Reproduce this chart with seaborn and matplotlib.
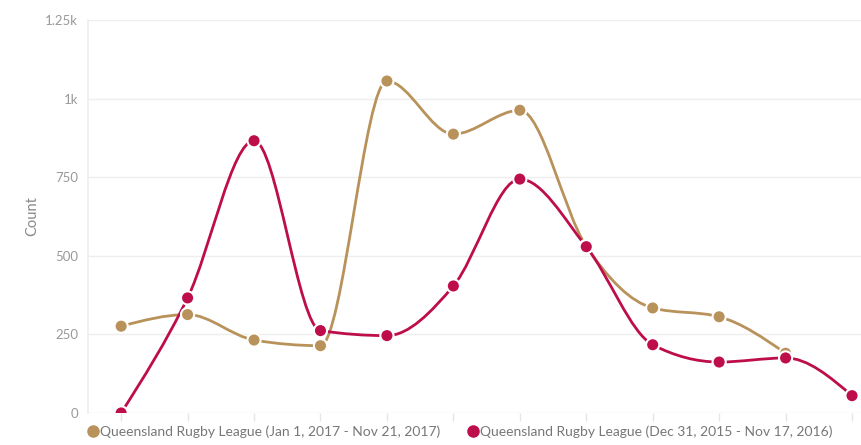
import numpy as np
import pandas as pd
import seaborn as sns
import matplotlib
matplotlib.use("Agg")
import matplotlib.pyplot as plt
from matplotlib.path import Path
from matplotlib.patches import PathPatch
from matplotlib.lines import Line2D

# ---- data ----
periods = list(range(12))
series_2017_name = "Queensland Rugby League (Jan 1, 2017 - Nov 21, 2017)"
series_2016_name = "Queensland Rugby League (Dec 31, 2015 - Nov 17, 2016)"
counts_2017 = [276, 313, 232, 214, 1056, 887, 963, 530, 334, 306, 190]
counts_2016 = [0, 366, 866, 262, 246, 404, 744, 529, 217, 162, 175, 55]
y_ticks = [0, 250, 500, 750, 1000, 1250]
y_tick_labels = ["0", "250", "500", "750", "1k", "1.25k"]

col_2017 = "#B8925A"
col_2016 = "#BE0D4B"

sns.set_theme(style="white")
plt.rcParams["font.family"] = ["Lato", "DejaVu Sans"]

fig = plt.figure(figsize=(8.62, 4.45), dpi=100)
ax = fig.add_axes([0.102, 0.072, 0.898, 0.883])

df = pd.concat([
    pd.DataFrame({"period": periods[:len(counts_2017)], "count": counts_2017, "series": series_2017_name}),
    pd.DataFrame({"period": periods[:len(counts_2016)], "count": counts_2016, "series": series_2016_name}),
])
palette = {series_2017_name: col_2017, series_2016_name: col_2016}


def monotone_path(xs, ys):
    x = np.asarray(xs, float)
    y = np.asarray(ys, float)
    n = len(x)
    h = np.diff(x)
    s = np.diff(y) / h
    t = np.zeros(n)
    for i in range(1, n - 1):
        s0, s1 = s[i - 1], s[i]
        p = (s0 * h[i] + s1 * h[i - 1]) / (h[i - 1] + h[i])
        t[i] = (np.sign(s0) + np.sign(s1)) * min(abs(s0), abs(s1), 0.5 * abs(p))
    t[0] = (3 * s[0] - t[1]) / 2 if n > 2 else s[0]
    t[-1] = (3 * s[-1] - t[-2]) / 2 if n > 2 else s[-1]
    verts = [(x[0], y[0])]
    codes = [Path.MOVETO]
    for i in range(n - 1):
        dx = (x[i + 1] - x[i]) / 3.0
        verts += [(x[i] + dx, y[i] + dx * t[i]),
                  (x[i + 1] - dx, y[i + 1] - dx * t[i + 1]),
                  (x[i + 1], y[i + 1])]
        codes += [Path.CURVE4] * 3
    return Path(verts, codes)


for name, vals, col in [(series_2017_name, counts_2017, col_2017),
                        (series_2016_name, counts_2016, col_2016)]:
    xs = periods[:len(vals)]
    ax.add_patch(PathPatch(monotone_path(xs, vals), facecolor="none",
                           edgecolor=col, lw=2, zorder=3))

sns.scatterplot(data=df, x="period", y="count", hue="series", palette=palette,
                s=90, edgecolor="white", linewidth=1.5, zorder=4, ax=ax, legend=False)

ax.set_xlim(-0.5, 11.15)
ax.set_ylim(0, 1250)
ax.set_yticks(y_ticks)
ax.set_yticklabels(y_tick_labels)
ax.set_xticks(periods)
ax.set_xticklabels([])
ax.grid(axis="y", color="#EEEEEE", lw=1, zorder=0)
for s in ["top", "right", "bottom"]:
    ax.spines[s].set_visible(False)
ax.spines["left"].set_color("#EEEEEE")
ax.tick_params(axis="y", length=0, labelsize=9.5, labelcolor="#999999", pad=7)
ax.tick_params(axis="x", length=6, color="#E6E6E6", width=1, direction="out", bottom=True)
ax.set_xlabel("")
ax.set_ylabel("Count", color="#888888", fontsize=10.5, labelpad=4)

handles = [Line2D([], [], marker="o", ls="", color=col_2017, markersize=8),
           Line2D([], [], marker="o", ls="", color=col_2016, markersize=8)]
fig.legend(handles, [series_2017_name, series_2016_name], loc="lower left",
           bbox_to_anchor=(0.085, -0.012), ncol=2, frameon=False, fontsize=10,
           labelcolor="#777777", handletextpad=0.0, columnspacing=1.9, handlelength=1.0)

fig.savefig("out.png", dpi=100)
